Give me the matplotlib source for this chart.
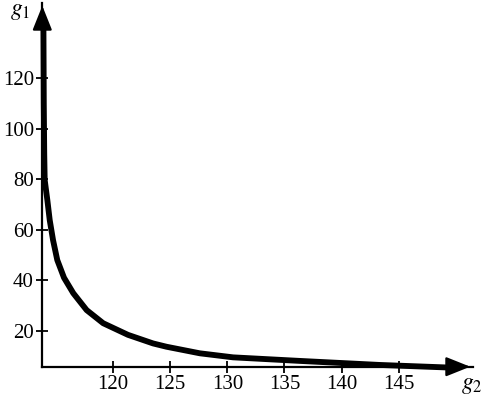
import matplotlib
matplotlib.use("Agg")
from matplotlib import pyplot as plt

# values
g2 = [113.9, 113.93, 113.97, 114.01, 114.24, 114.45, 114.74, 115.11, 115.7,
      116.51, 117.68, 119.13, 121.3, 123.5, 124.67, 127.59, 130.5, 133.4,
      136.3, 139.8, 143.3, 149.2]
g1 = [140.5, 110, 90, 79.7, 71.8, 63.8, 55.9, 48.0, 41.0,
      34.9, 28.2, 23.0, 18.4, 15.0, 13.7, 11.1, 9.5, 8.8,
      8.1, 7.3, 6.5, 5.5]

x_ticks = [120, 125, 130, 135, 140, 145]
y_ticks = [20, 40, 60, 80, 100, 120, 140]
y_tick_labels = ["20", "40", "60", "80", "100", "120", ""]

plt.rcParams["font.family"] = ["Liberation Serif", "DejaVu Serif"]
plt.rcParams["mathtext.fontset"] = "stix"

fig = plt.figure(figsize=(4.83, 3.97), dpi=100)
ax = fig.add_axes([42.3 / 483, 30.3 / 397, (473 - 42.3) / 483, (366.7 - 3) / 397])

ax.plot(g2, g1, color="black", lw=4.2, solid_capstyle="butt",
        solid_joinstyle="round", clip_on=False)

ax.set_xlim(113.8, 151.5)
ax.set_ylim(5.8, 149.7)

for s in ["top", "right"]:
    ax.spines[s].set_visible(False)
for s in ["left", "bottom"]:
    ax.spines[s].set_linewidth(1.6)

ax.set_xticks(x_ticks)
ax.set_xticklabels([str(t) for t in x_ticks])
ax.set_yticks(y_ticks)
ax.set_yticklabels(y_tick_labels)
ax.tick_params(direction="inout", length=8, width=1.3, labelsize=15, pad=2)

# arrow heads on the axes
arrow = dict(arrowstyle="-|>,head_length=0.75,head_width=0.3", color="black",
             lw=1.6, mutation_scale=20)
ax.annotate("", xy=(1.0, 0), xytext=(0.9, 0), xycoords="axes fraction",
            arrowprops=arrow, annotation_clip=False)
ax.annotate("", xy=(0, 1.0), xytext=(0, 0.9), xycoords="axes fraction",
            arrowprops=arrow, annotation_clip=False)

fig.text(20 / 483, 1 - 12 / 397, "$g_1$", fontsize=17, ha="center", va="center")
fig.text(472 / 483, 1 - 386 / 397, "$g_2$", fontsize=17, ha="center", va="center")

fig.savefig("out.png", dpi=100)
